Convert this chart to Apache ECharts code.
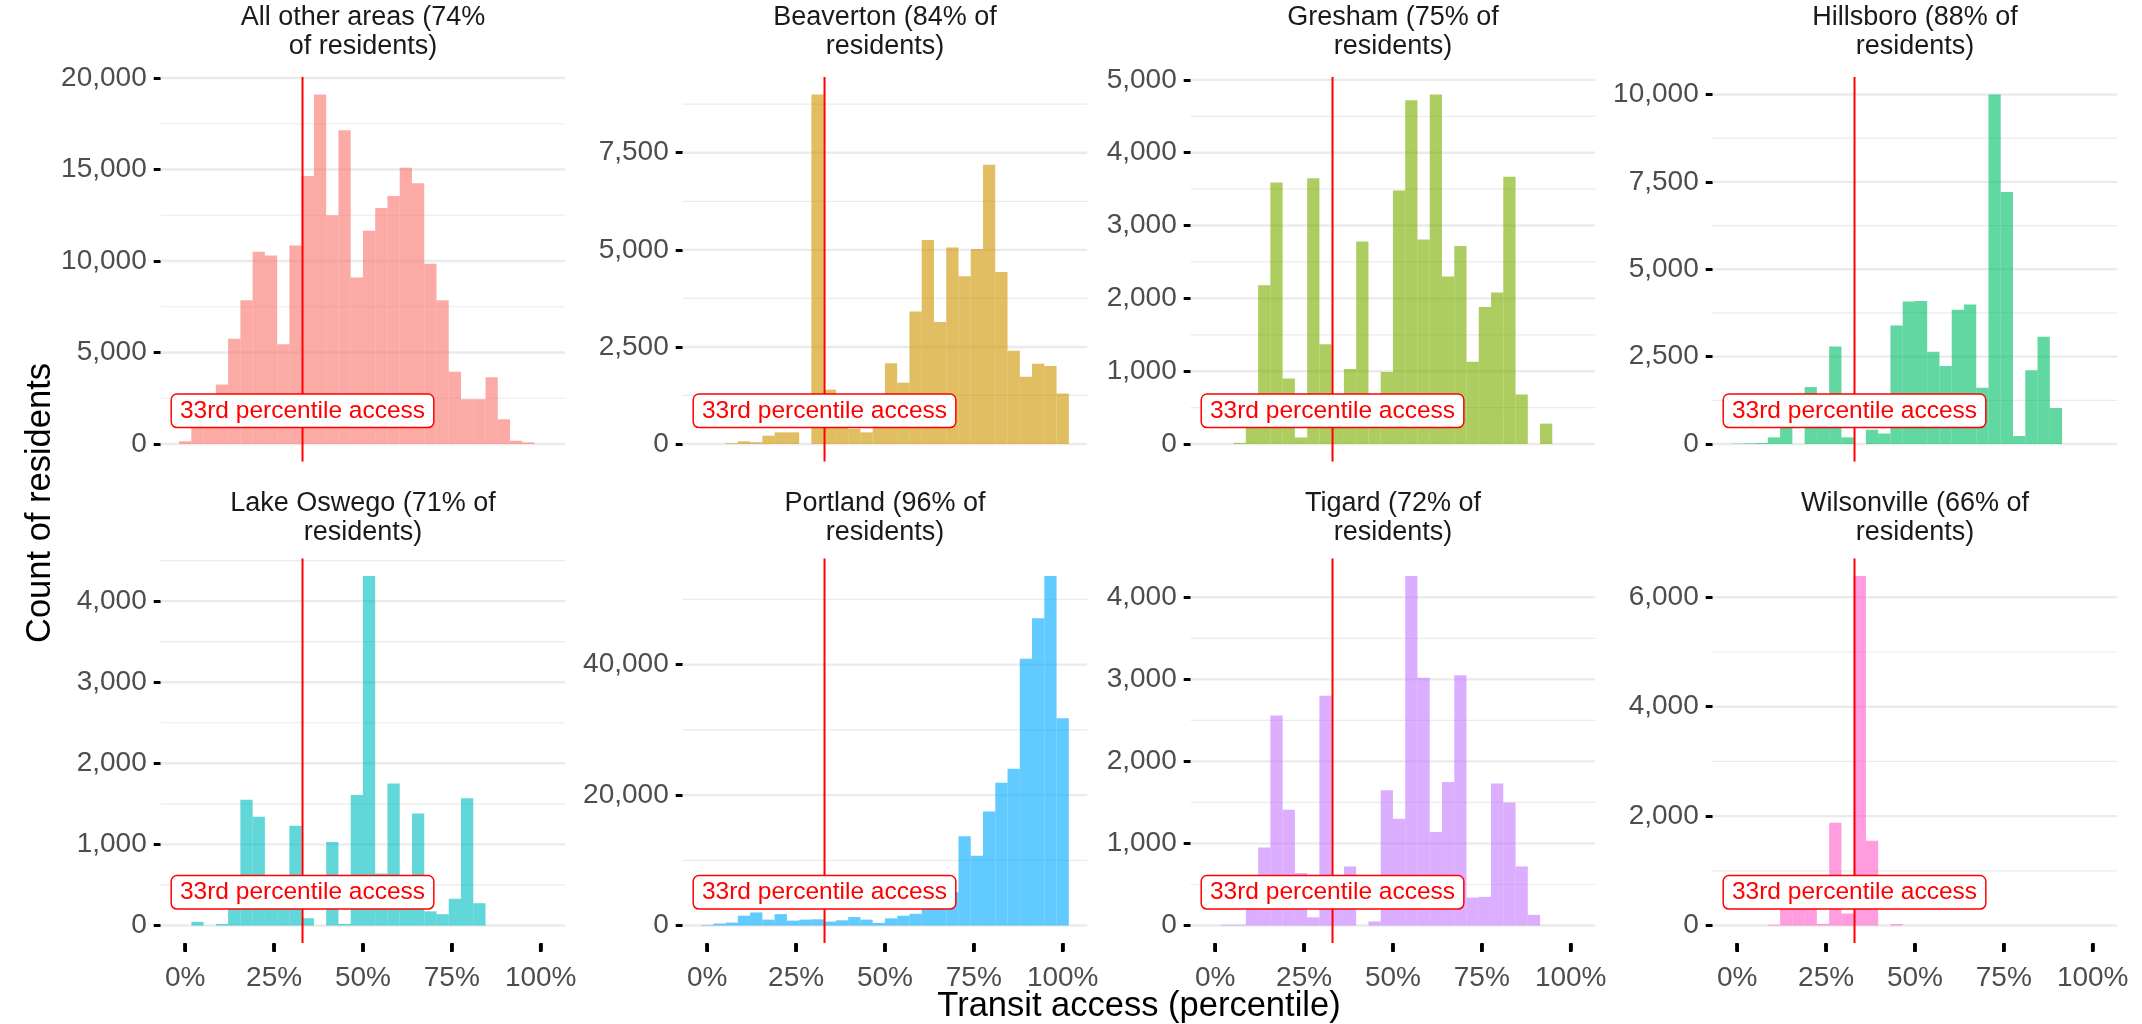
<!DOCTYPE html>
<html>
<head>
<meta charset="utf-8">
<script src="https://cdn.jsdelivr.net/npm/echarts@6/dist/echarts.min.js"></script>
<style>
html,body{margin:0;padding:0;background:#ffffff;}
#chart{width:2142px;height:1024px;}
</style>
</head>
<body>
<div id="chart"></div>
<script>
// ---------------- data ----------------
// histogram bins (30 bins, percentile of transit access)
const binCenters = [0, 3.45, 6.9, 10.34, 13.79, 17.24, 20.69, 24.14, 27.59, 31.03,
  34.48, 37.93, 41.38, 44.83, 48.28, 51.72, 55.17, 58.62, 62.07, 65.52,
  68.97, 72.41, 75.86, 79.31, 82.76, 86.21, 89.66, 93.1, 96.55, 100];
const binWidth = 3.448;

const panelTitles = [
  'All other areas (74%\nof residents)',
  'Beaverton (84% of\nresidents)',
  'Gresham (75% of\nresidents)',
  'Hillsboro (88% of\nresidents)',
  'Lake Oswego (71% of\nresidents)',
  'Portland (96% of\nresidents)',
  'Tigard (72% of\nresidents)',
  'Wilsonville (66% of\nresidents)'
];

const allOtherAreas = [150, 1200, 2200, 3250, 5750, 7850, 10500, 10300, 5450, 10850,
  14650, 19100, 12500, 17150, 9100, 11650, 12900, 13550, 15100, 14250,
  9850, 7850, 3950, 2450, 2450, 3650, 1350, 180, 90, 0];
const beaverton = [0, 0, 20, 70, 45, 215, 300, 300, 0, 9000,
  1400, 415, 390, 300, 800, 2080, 1580, 3410, 5250, 3140,
  5060, 4320, 5020, 7190, 4430, 2400, 1730, 2070, 2010, 1300];
const gresham = [0, 0, 15, 500, 2180, 3590, 900, 90, 3650, 1370,
  400, 1030, 2780, 400, 990, 3480, 4720, 2810, 4800, 2300,
  2720, 1130, 1880, 2080, 3670, 680, 0, 280, 0, 0];
const hillsboro = [10, 20, 30, 190, 700, 0, 1630, 900, 2790, 190,
  0, 410, 300, 3390, 4080, 4090, 2640, 2230, 3840, 3990,
  1610, 10000, 7210, 230, 2110, 3070, 1030, 0, 0, 0];
const lakeOswego = [0, 45, 0, 20, 350, 1550, 1340, 300, 350, 1230,
  90, 0, 1030, 20, 1610, 4310, 640, 1750, 205, 1380,
  175, 140, 330, 1570, 275, 0, 0, 0, 0, 0];
const portland = [100, 300, 450, 1500, 2000, 900, 1750, 750, 900, 950,
  600, 800, 1300, 900, 400, 1100, 1500, 1800, 2600, 3800,
  5100, 13700, 10700, 17500, 21900, 24050, 40900, 47100, 53600, 31800];
const tigard = [0, 10, 10, 350, 950, 2560, 1410, 640, 100, 2800,
  350, 720, 0, 50, 1650, 1300, 4260, 3020, 1140, 1750,
  3050, 340, 350, 1730, 1500, 720, 130, 0, 0, 0];
const wilsonville = [0, 0, 0, 15, 500, 450, 550, 30, 1880, 220,
  6390, 1550, 0, 25, 0, 0, 0, 0, 0, 0,
  0, 0, 0, 0, 0, 0, 0, 0, 0, 0];

const xTicks = [0, 25, 50, 75, 100];
const yMajor = [
  [0, 5000, 10000, 15000, 20000],
  [0, 2500, 5000, 7500],
  [0, 1000, 2000, 3000, 4000, 5000],
  [0, 2500, 5000, 7500, 10000],
  [0, 1000, 2000, 3000, 4000],
  [0, 20000, 40000],
  [0, 1000, 2000, 3000, 4000],
  [0, 2000, 4000, 6000]
];
const yMinor = [
  [2500, 7500, 12500, 17500],
  [1250, 3750, 6250, 8750],
  [500, 1500, 2500, 3500, 4500],
  [1250, 3750, 6250, 8750],
  [500, 1500, 2500, 3500, 4500],
  [10000, 30000, 50000],
  [500, 1500, 2500, 3500],
  [1000, 3000, 5000]
];
const cutoff = 33;
const cutoffLabel = '33rd percentile access';

// ---------------- styling / layout ----------------
const panelValues = [allOtherAreas, beaverton, gresham, hillsboro, lakeOswego, portland, tigard, wilsonville];
const panelColors = ['#F8766D', '#CD9600', '#7CAE00', '#00BE67', '#00BFC4', '#00A9FF', '#C77CFF', '#FF61CC'];
const FONT = "'Liberation Sans', Arial, Helvetica, sans-serif";
const colLeft = [160.7, 682.7, 1190.7, 1712.7];
const rowTop = [77, 558.5];
const stripOffset = [44.5, 40.5];
const panelW = 404.5, panelH = 384.5;
const barAlpha = 0.62;

function rgba(hex, a) {
  const n = parseInt(hex.slice(1), 16);
  return 'rgba(' + ((n >> 16) & 255) + ',' + ((n >> 8) & 255) + ',' + (n & 255) + ',' + a + ')';
}
const fmt = v => Math.round(v).toLocaleString('en-US');

const xSpan = 100 + binWidth;
const xMin = -binWidth / 2 - 0.05 * xSpan;
const xMax = 100 + binWidth / 2 + 0.05 * xSpan;

const grids = [], xAxes = [], yAxes = [], series = [], graphics = [];

panelValues.forEach((vals, i) => {
  const r = Math.floor(i / 4), c = i % 4;
  const M = Math.max.apply(null, vals);
  const bottomRow = r === 1;
  grids.push({ left: colLeft[c], top: rowTop[r], width: panelW, height: panelH });
  xAxes.push({
    type: 'value', gridIndex: i, min: xMin, max: xMax, position: 'bottom',
    axisLine: { show: false, onZero: false }, splitLine: { show: false },
    axisTick: { show: bottomRow, customValues: xTicks, length: 8, lineStyle: { color: '#000000', width: 3.5 } },
    axisLabel: { show: bottomRow, customValues: xTicks, formatter: v => v + '%', fontFamily: FONT, fontSize: 28, color: '#4D4D4D', margin: 21 }
  });
  yAxes.push({
    type: 'value', gridIndex: i, min: -0.05 * M, max: 1.05 * M, position: 'left',
    axisLine: { show: false, onZero: false }, splitLine: { show: false },
    axisTick: { show: true, customValues: yMajor[i], length: 7, lineStyle: { color: '#000000', width: 3 } },
    axisLabel: { customValues: yMajor[i], formatter: fmt, fontFamily: FONT, fontSize: 28, color: '#4D4D4D', margin: 14 }
  });

  // grid lines (major + minor)
  const gridData = yMajor[i].map(v => [0, v, 1]).concat(yMinor[i].map(v => [0, v, 0]));
  series.push({
    type: 'custom', xAxisIndex: i, yAxisIndex: i, z: 1, silent: true,
    encode: { x: 0, y: 1 },
    data: gridData,
    renderItem: function (params, api) {
      const cs = params.coordSys;
      const y = api.coord([0, api.value(1)])[1];
      const major = api.value(2) === 1;
      return { type: 'line', shape: { x1: cs.x, y1: y, x2: cs.x + cs.width, y2: y },
        style: { stroke: '#EBEBEB', lineWidth: major ? 2.4 : 1.2 } };
    }
  });

  // histogram bars
  const fill = rgba(panelColors[i], barAlpha);
  series.push({
    type: 'custom', xAxisIndex: i, yAxisIndex: i, z: 2, silent: true,
    encode: { x: 0, y: 1 },
    data: binCenters.map((x, k) => [x, vals[k]]),
    renderItem: function (params, api) {
      const x = api.value(0), y = api.value(1);
      if (!y) return null;
      const a = api.coord([x - binWidth / 2, y]);
      const b = api.coord([x + binWidth / 2, 0]);
      return { type: 'rect', shape: { x: a[0], y: a[1], width: b[0] - a[0], height: b[1] - a[1] },
        style: { fill: fill } };
    }
  });

  // cutoff line + label
  series.push({
    type: 'custom', xAxisIndex: i, yAxisIndex: i, z: 3, silent: true,
    encode: { x: 0, y: 1 },
    data: [[cutoff, 0.095 * M]],
    renderItem: function (params, api) {
      const cs = params.coordSys;
      const p = api.coord([api.value(0), api.value(1)]);
      return { type: 'group', children: [
        { type: 'line', shape: { x1: p[0], y1: cs.y, x2: p[0], y2: cs.y + cs.height },
          style: { stroke: '#FF0000', lineWidth: 2 } },
        { type: 'text', x: p[0], y: p[1],
          style: { text: cutoffLabel, fill: '#FF0000', fontFamily: FONT, fontSize: 24.5,
            align: 'center', verticalAlign: 'middle', lineHeight: 25,
            backgroundColor: '#ffffff', borderColor: '#FF0000', borderWidth: 1.5,
            borderRadius: 5, padding: [4, 8, 3, 8] } }
      ] };
    }
  });

  graphics.push({
    type: 'text', x: colLeft[c] + panelW / 2, y: rowTop[r] - stripOffset[r],
    style: { text: panelTitles[i], fontFamily: FONT, fontSize: 27, fill: '#1A1A1A',
      align: 'center', verticalAlign: 'middle', lineHeight: 29 }
  });
});

graphics.push({
  type: 'text', x: 40, y: 503, rotation: Math.PI / 2,
  style: { text: 'Count of residents', fontFamily: FONT, fontSize: 34.5, fill: '#000000',
    align: 'center', verticalAlign: 'middle' }
});
graphics.push({
  type: 'text', x: 1139, y: 1006,
  style: { text: 'Transit access (percentile)', fontFamily: FONT, fontSize: 34.5, fill: '#000000',
    align: 'center', verticalAlign: 'middle' }
});

const chart = echarts.init(document.getElementById('chart'), null, { renderer: 'canvas' });
chart.setOption({
  animation: false,
  backgroundColor: '#ffffff',
  grid: grids,
  xAxis: xAxes,
  yAxis: yAxes,
  series: series,
  graphic: graphics
});

// x-axis tick marks under the bottom-row panels, placed through the axis scale
const tickMarks = [];
[4, 5, 6, 7].forEach(i => {
  xTicks.forEach(v => {
    const p = chart.convertToPixel({ xAxisIndex: i }, v);
    const y0 = rowTop[1] + panelH + 1;
    tickMarks.push({
      type: 'rect', z: 100, silent: true,
      shape: { x: p - 1.75, y: y0, width: 3.5, height: 8 },
      style: { fill: '#000000' }
    });
  });
});
chart.setOption({ graphic: graphics.concat(tickMarks) });
</script>
</body>
</html>
